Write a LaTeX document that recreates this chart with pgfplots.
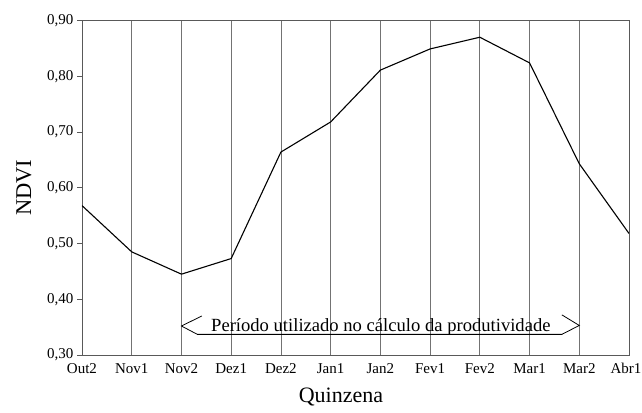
\documentclass[border=0pt]{standalone}
\usepackage{fontspec}
\setmainfont{Liberation Serif}
\usepackage{pgfplots}
\pgfplotsset{compat=1.18}
\pgfplotstableread{
x y
0 0.568
1 0.485
2 0.445
3 0.473
4 0.664
5 0.718
6 0.811
7 0.849
8 0.870
9 0.824
10 0.643
11 0.518
}\ndvidata
\begin{document}
\begin{tikzpicture}
\useasboundingbox (-82pt,-57pt) rectangle (560pt,355pt);
\begin{axis}[
  at={(0pt,0pt)}, anchor=south west,
  scale only axis, width=547pt, height=334.5pt,
  xmin=0, xmax=11, ymin=0.3, ymax=0.9,
  xtick={0,1,2,3,4,5,6,7,8,9,10,11},
  xticklabels={Out2,Nov1,Nov2,Dez1,Dez2,Jan1,Jan2,Fev1,Fev2,Mar1,Mar2,{\hspace*{-6pt}Abr1}},
  ytick={0.3,0.4,0.5,0.6,0.7,0.8,0.9},
  yticklabel style={/pgf/number format/.cd, fixed, fixed zerofill, precision=2, use comma, assume math mode=true},
  ticklabel style={font=\fontsize{15}{18}\selectfont},
  xtick style={draw=none},
  ytick pos=left, tick align=outside, major tick length=5pt,
  ytick style={black!65, line width=0.8pt},
  xmajorgrids, major grid style={black!55, line width=0.8pt},
  axis line style={black!65, line width=0.8pt},
  xlabel={Quinzena}, ylabel={NDVI},
  xlabel style={font=\fontsize{22}{24}\selectfont, at={(axis description cs:0.4735,-0.1256)}, anchor=center},
  ylabel style={font=\fontsize{22.5}{24}\selectfont, at={(axis description cs:-0.106,0.5)}, rotate=0, anchor=center},
]
\addplot[black, line width=1.1pt, mark=none] table[x=x, y=y] {\ndvidata};
\draw[black, line width=0.8pt] (axis cs:2.41,0.370) -- (axis cs:2,0.352) -- (axis cs:2.32,0.337) -- (axis cs:9.65,0.337) -- (axis cs:10,0.353) -- (axis cs:9.65,0.372);
\node[font=\fontsize{18.6}{20}\selectfont, inner sep=0pt, anchor=base] at (axis cs:6.01,0.342) {Período utilizado no cálculo da produtividade};
\end{axis}
\end{tikzpicture}
\end{document}
